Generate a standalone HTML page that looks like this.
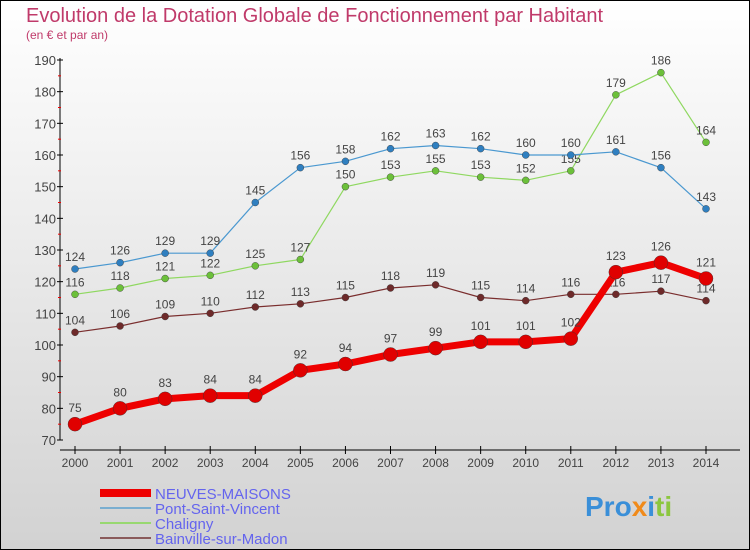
<!DOCTYPE html>
<html><head><meta charset="utf-8"><style>
body{margin:0}
svg{display:block;font-family:"Liberation Sans",sans-serif}
</style></head><body>
<svg id="c" width="750" height="550" xmlns="http://www.w3.org/2000/svg">
<defs><linearGradient id="bg" x1="0" y1="0" x2="0" y2="1"><stop offset="0" stop-color="#ffffff"/><stop offset="1" stop-color="#d2d2d2"/></linearGradient></defs>
<rect x="0.5" y="0.5" width="749" height="549" fill="url(#bg)" stroke="#000"/>
<text x="26" y="22" font-size="20" fill="#c03a6a">Evolution de la Dotation Globale de Fonctionnement par Habitant</text>
<text x="26" y="39" font-size="12" fill="#c03a6a">(en € et par an)</text>
<g id="axes"></g><g id="series"></g><g id="legend"></g>
<text x="585" y="516" font-size="28" font-weight="bold"><tspan fill="#3a8fd8">Pro</tspan><tspan fill="#f08a1a">x</tspan><tspan fill="#3a8fd8">i</tspan><tspan fill="#8cc63f">ti</tspan></text>
</svg>
<script>
const years=[2000,2001,2002,2003,2004,2005,2006,2007,2008,2009,2010,2011,2012,2013,2014];
const yTicks=[70,80,90,100,110,120,130,140,150,160,170,180,190];
const neuves=[75,80,83,84,84,92,94,97,99,101,101,102,123,126,121];
const pont=[124,126,129,129,145,156,158,162,163,162,160,160,161,156,143];
const chaligny=[116,118,121,122,125,127,150,153,155,153,152,155,179,186,164];
const bainville=[104,106,109,110,112,113,115,118,119,115,114,116,116,117,114];
const names=["NEUVES-MAISONS","Pont-Saint-Vincent","Chaligny","Bainville-sur-Madon"];
const NS="http://www.w3.org/2000/svg";
const xs=i=>75+i*(706-75)/14;
const ys=v=>440-(v-70)*(380/120);
function mk(t,a,p){const e=document.createElementNS(NS,t);for(const k in a)e.setAttribute(k,a[k]);p.appendChild(e);return e;}
const ax=document.getElementById('axes');
let yl=mk('line',{x1:60,y1:58,x2:60,y2:440,stroke:'#000'},ax);


let xl=mk('line',{x1:60,y1:450,x2:740,y2:450,stroke:'#000'},ax);


yTicks.forEach(v=>{mk('line',{x1:57,y1:ys(v),x2:63,y2:ys(v),stroke:'#000'},ax);
 if(v<190)mk('line',{x1:58,y1:ys(v+5),x2:61,y2:ys(v+5),stroke:'#e00'},ax);
 const t=mk('text',{x:56,y:ys(v)+5,'text-anchor':'end','font-size':13,fill:'#444'},ax);t.textContent=v;
 
 });
years.forEach((y,i)=>{mk('line',{x1:xs(i),y1:446,x2:xs(i),y2:454,stroke:'#000'},ax);
 const t=mk('text',{x:xs(i),y:467,'text-anchor':'middle','font-size':12,fill:'#444'},ax);t.textContent=y;
 
 });
const sg=document.getElementById('series');
const defs=[[bainville,'#7a2e2e','#6e2a2a',1.2,3.5,'series-bainville'],[chaligny,'#8fd860','#6cc03a',1.2,3.5,'series-chaligny'],[pont,'#4a98d0','#2f7fc0',1.2,3.5,'series-pont-saint-vincent'],[neuves,'#ee0000','#e00000',7,7,'series-neuves-maisons']];
defs.forEach(([d,c,pc,w,r,n])=>{const g=mk('g',{},sg);
 
 
 mk('polyline',{points:d.map((v,i)=>xs(i)+','+ys(v)).join(' '),fill:'none',stroke:c,'stroke-width':w,'stroke-linejoin':'round'},g);
 d.forEach((v,i)=>{const p=mk('circle',{cx:xs(i),cy:ys(v),r:r,fill:pc,stroke:'#333','stroke-width':0.4},g);
  
  
  const t=mk('text',{x:xs(i),y:ys(v)-(w>2?12:8),'text-anchor':'middle','font-size':12,fill:'#444'},g);t.textContent=v;
  
  });});
const lg=document.getElementById('legend');
const lc=['#ee0000','#7aaed0','#98d870','#8a5a5a'],lw=[8,2,2,2];
names.forEach((n,i)=>{const y=493+i*15;const g=mk('g',{},lg);
 
 
 mk('line',{x1:100,y1:y,x2:151,y2:y,stroke:lc[i],'stroke-width':lw[i]},g);
 const t=mk('text',{x:155,y:y+6,'font-size':15,fill:'#6464ee'},g);t.textContent=n;});
</script>
</body></html>
